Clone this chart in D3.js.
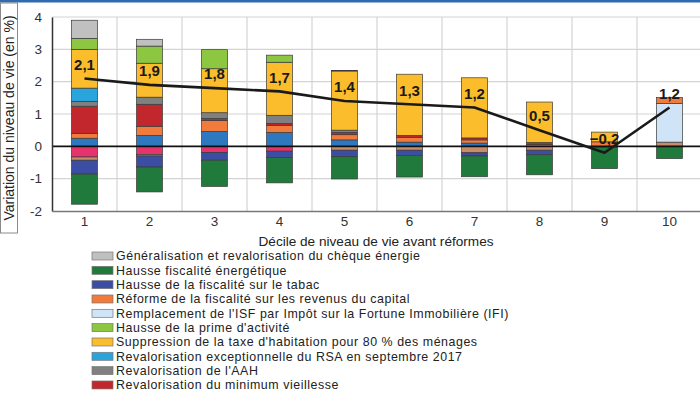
<!DOCTYPE html>
<html>
<head>
<meta charset="utf-8">
<script src="https://cdn.jsdelivr.net/npm/d3@7"></script>
<style>
  body { margin: 0; background: #fff; }
  svg { display: block; font-family: "Liberation Sans", Arial, sans-serif; }
</style>
</head>
<body>
<script>
// deciles
const deciles = ["1", "2", "3", "4", "5", "6", "7", "8", "9", "10"];

// net effect (line + labels)
const netEffect = [2.1, 1.9, 1.8, 1.7, 1.4, 1.3, 1.2, 0.5, -0.2, 1.2];

// measures (order = stacking order)
const seriesNames = [
  "Bascule cotisations salariales / CSG",
  "Hausse de la CSG",
  "Autres mesures",
  "Remplacement de l'ISF par Impôt sur la Fortune Immobilière (IFI)",
  "Réforme de la fiscalité sur les revenus du capital",
  "Revalorisation du minimum vieillesse",
  "Revalorisation de l'AAH",
  "Revalorisation exceptionnelle du RSA en septembre 2017",
  "Suppression de la taxe d'habitation pour 80 % des ménages",
  "Hausse de la prime d'activité",
  "Généralisation et revalorisation du chèque énergie",
  "Hausse de la fiscalité sur le tabac",
  "Hausse fiscalité énergétique"
];

const bascule   = [0.25, 0.34, 0.46, 0.43, 0.2, 0.13, 0.1, 0, 0, 0];
const csg       = [-0.33, -0.25, -0.19, -0.15, 0, 0, 0, 0, 0, 0];
const autres    = [-0.1, -0.05, 0, 0, -0.12, -0.12, -0.2, -0.12, -0.04, 0.13];
const ifi       = [0, 0, 0, 0, 0, 0, 0, 0, 0, 1.19];
const capital   = [0.15, 0.28, 0.34, 0.22, 0.16, 0.15, 0.1, 0.06, 0.14, 0.19];
const minVieil  = [0.84, 0.68, 0.06, 0.06, 0.07, 0.06, 0.06, 0.06, 0, 0];
const aah       = [0.15, 0.22, 0.18, 0.25, 0.07, 0, 0, 0, 0, 0];
const rsa       = [0.41, 0, 0, 0, 0, 0, 0, 0, 0, 0];
const taxeHab   = [1.2, 1.05, 1.36, 1.64, 1.83, 1.89, 1.86, 1.25, 0.3, 0];
const primeAct  = [0.34, 0.53, 0.59, 0.22, 0.02, 0, 0, 0, 0, 0];
const chequeEn  = [0.56, 0.21, 0, 0, 0, 0, 0, 0, 0, 0];
const tabac     = [-0.43, -0.34, -0.24, -0.2, -0.2, -0.16, -0.1, -0.14, 0, 0];
const energie   = [-0.93, -0.77, -0.81, -0.78, -0.69, -0.67, -0.64, -0.62, -0.65, -0.38];

const seriesValues = [bascule, csg, autres, ifi, capital, minVieil, aah, rsa,
  taxeHab, primeAct, chequeEn, tabac, energie];

const colors = ["#2e78bf", "#e6336d", "#c98b68", "#cfe5f7", "#f07b3c", "#c1272d",
  "#808080", "#2aa4dd", "#fbbd2c", "#8dc641", "#c0c0c0", "#3b4ea3", "#1f7a3b"];

// legend shows these (in this order)
const legendOrder = [10, 12, 11, 4, 3, 9, 8, 7, 6, 5];

const yTicks = [-2, -1, 0, 1, 2, 3, 4];

// build table for d3.stack
const table = deciles.map((d, i) => {
  const row = { decile: d };
  seriesNames.forEach((s, j) => { row[s] = seriesValues[j][i]; });
  return row;
});

const width = 700;
const height = 394;
const plotLeft = 52, plotRight = 702, plotTop = 17, plotBottom = 211;

const svg = d3.select("body").append("svg")
  .attr("width", width)
  .attr("height", height);

// top blue strip
svg.append("rect").attr("x", 0).attr("y", 0).attr("width", width).attr("height", 2.5)
  .attr("fill", "#2f6cae");

const x = d3.scaleBand().domain(deciles).range([plotLeft, plotRight])
  .paddingInner(0.6).paddingOuter(0.3);
const y = d3.scaleLinear().domain([-2, 4]).range([plotBottom, plotTop]);

// grid
svg.append("g").selectAll("line").data(yTicks.filter(t => t > -2 && t !== 0))
  .join("line")
  .attr("x1", plotLeft).attr("x2", plotRight)
  .attr("y1", d => y(d)).attr("y2", d => y(d))
  .attr("stroke", "#d4d4d4").attr("stroke-width", 1.2);

const gap = x.step() - x.bandwidth();
svg.append("g").selectAll("line").data(deciles.slice(0, -1))
  .join("line")
  .attr("x1", d => x(d) + x.bandwidth() + gap / 2)
  .attr("x2", d => x(d) + x.bandwidth() + gap / 2)
  .attr("y1", plotTop).attr("y2", plotBottom)
  .attr("stroke", "#d4d4d4").attr("stroke-width", 1.2);

// stacked bars
const stack = d3.stack().keys(seriesNames).offset(d3.stackOffsetDiverging);
const layers = stack(table);

svg.append("g").selectAll("g").data(layers).join("g")
  .attr("fill", (d, i) => colors[i])
  .selectAll("rect")
  .data(d => d.filter(p => p[1] - p[0] !== 0))
  .join("rect")
  .attr("x", d => x(d.data.decile))
  .attr("y", d => y(Math.max(d[0], d[1])))
  .attr("width", x.bandwidth())
  .attr("height", d => Math.abs(y(d[0]) - y(d[1])))
  .attr("stroke", "#3a3a3a")
  .attr("stroke-width", 0.7);

// zero line
svg.append("line")
  .attr("x1", plotLeft).attr("x2", plotRight)
  .attr("y1", y(0)).attr("y2", y(0))
  .attr("stroke", "#111").attr("stroke-width", 1.6);

// axes
const yAxis = d3.axisLeft(y).tickValues(yTicks).tickFormat(d => String(d))
  .tickSize(0).tickPadding(10);
const gy = svg.append("g").attr("transform", "translate(" + plotLeft + ",0)").call(yAxis);
gy.select(".domain").attr("stroke", "#333").attr("stroke-width", 1.5);
gy.selectAll("text").attr("font-size", 13.5).attr("fill", "#333")
  .attr("font-family", "Liberation Sans, Arial, sans-serif");

const xAxis = d3.axisBottom(x).tickSize(0).tickPadding(5);
const gx = svg.append("g").attr("transform", "translate(0," + plotBottom + ")").call(xAxis);
gx.select(".domain").attr("stroke", "#777").attr("stroke-width", 1.3);
gx.selectAll("text").attr("font-size", 13.5).attr("fill", "#333")
  .attr("font-family", "Liberation Sans, Arial, sans-serif");

// net effect line
const line = d3.line()
  .x((d, i) => x(deciles[i]) + x.bandwidth() / 2)
  .y(d => y(d));

svg.append("path")
  .datum(netEffect)
  .attr("d", line)
  .attr("fill", "none")
  .attr("stroke", "#1a1a1a")
  .attr("stroke-width", 2.6)
  .attr("stroke-linejoin", "round");

const fr = d3.formatLocale({ decimal: ",", thousands: " ", grouping: [3], currency: ["", " €"] });
const fmt = fr.format(".1f");

svg.append("g").selectAll("text").data(netEffect).join("text")
  .attr("x", (d, i) => x(deciles[i]) + x.bandwidth() / 2)
  .attr("y", d => y(d) - 14)
  .attr("dy", "0.35em")
  .attr("text-anchor", "middle")
  .attr("font-size", 15)
  .attr("font-weight", "bold")
  .attr("fill", "#1a1a1a")
  .text(d => fmt(d));

// y title with box
svg.append("rect").attr("x", 0.5).attr("y", 3).attr("width", 17).attr("height", 230)
  .attr("fill", "none").attr("stroke", "#8a8a8a");
svg.append("text")
  .attr("transform", "translate(14,118) rotate(-90)")
  .attr("text-anchor", "middle")
  .attr("font-size", 14)
  .attr("fill", "#222")
  .text("Variation du niveau de vie (en %)");

// x title
svg.append("text")
  .attr("x", 376).attr("y", 246)
  .attr("text-anchor", "middle")
  .attr("font-size", 13.6)
  .attr("fill", "#222")
  .text("Décile de niveau de vie avant réformes");

// legend
const legend = svg.append("g").selectAll("g").data(legendOrder).join("g")
  .attr("transform", (d, i) => "translate(92," + (256 + i * 14.33) + ")");

legend.append("rect")
  .attr("x", 0).attr("y", -4).attr("width", 21).attr("height", 8)
  .attr("fill", d => colors[d])
  .attr("stroke", "#777").attr("stroke-width", 0.7);

legend.append("text")
  .attr("x", 24).attr("y", 0).attr("dy", "0.36em")
  .attr("font-size", 12.4)
  .attr("letter-spacing", 0.55)
  .attr("fill", "#222")
  .text(d => seriesNames[d]);
</script>
</body>
</html>
